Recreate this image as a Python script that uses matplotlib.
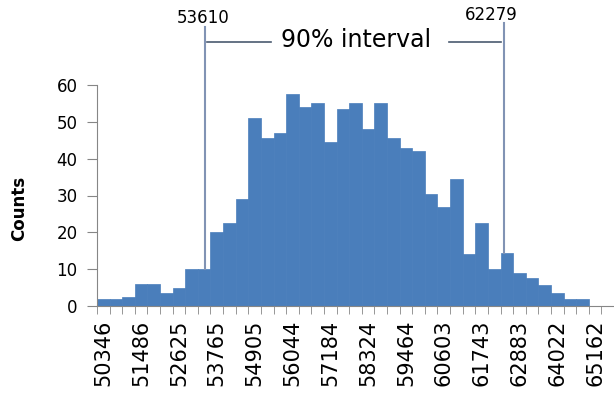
import matplotlib
matplotlib.use("Agg")
import matplotlib.pyplot as plt
import numpy as np

# histogram counts, one per bin (bins are ~380 wide, first centre 50346)
counts = [2, 2, 2.5, 6, 6, 3.5, 4.8, 10, 10, 20,
          22.5, 29, 51, 45.5, 47, 57.5, 54, 55, 44.5, 53.5,
          55, 48, 55, 45.5, 43, 42, 30.5, 27, 34.5, 14,
          22.5, 10, 14.5, 9, 7.5, 5.7, 3.5, 1.8, 1.8, 0, 0]
# labels shown on every third bin
tick_labels = ["50346", "51486", "52625", "53765", "54905", "56044", "57184",
               "58324", "59464", "60603", "61743", "62883", "64022", "65162"]
interval_lo = "53610"
interval_hi = "62279"
interval_text = "90% interval"

bar_color = "#4a7ebb"
axis_grey = "#868686"
line_color = "#8193b4"

fig = plt.figure(figsize=(6.14, 4.0), dpi=100)
ax = fig.add_axes([97/614, 94/400, 517/614, 221/400])

pos = np.arange(len(counts))
ax.bar(pos, counts, width=1.0, color=bar_color, edgecolor=bar_color, linewidth=0.5)

ax.set_xlim(-0.5, -0.5 + 517/12.62)
ax.set_ylim(0, 60)
ax.set_yticks(range(0, 61, 10))
ax.tick_params(axis="y", length=7, color=axis_grey, labelsize=12, pad=7)

ax.set_xticks(pos[::3][:len(tick_labels)])
ax.set_xticklabels(tick_labels, rotation=90, fontsize=15)
ax.set_xticks(np.arange(-0.5, len(counts), 1), minor=True)
ax.tick_params(axis="x", which="major", length=0, pad=10)
ax.tick_params(axis="x", which="minor", length=6, color=axis_grey)

for s in ["top", "right"]:
    ax.spines[s].set_visible(False)
for s in ["left", "bottom"]:
    ax.spines[s].set_color(axis_grey)

ax.set_ylabel("Counts", fontsize=12, fontweight="bold")
ax.yaxis.set_label_coords(-0.133, 0.44)

# 90% interval markers
xl, xr = 8.04, 31.78
ax.plot([xl, xl], [counts[8], 75.7], color=line_color, lw=1.5, clip_on=False)
ax.plot([xr, xr], [counts[32], 76.8], color=line_color, lw=1.5, clip_on=False)
ax.plot([8.24, 13.3], [71.7, 71.7], color="#4a5a70", lw=1.2, clip_on=False)
ax.plot([27.4, 31.5], [71.7, 71.7], color="#4a5a70", lw=1.2, clip_on=False)
ax.text(20.05, 72.2, interval_text, ha="center", va="center", fontsize=17, clip_on=False)
ax.text(7.88, 78.2, interval_lo, ha="center", va="center", fontsize=12, clip_on=False)
ax.text(30.8, 79.0, interval_hi, ha="center", va="center", fontsize=12, clip_on=False)

fig.savefig("out.png", dpi=100)
